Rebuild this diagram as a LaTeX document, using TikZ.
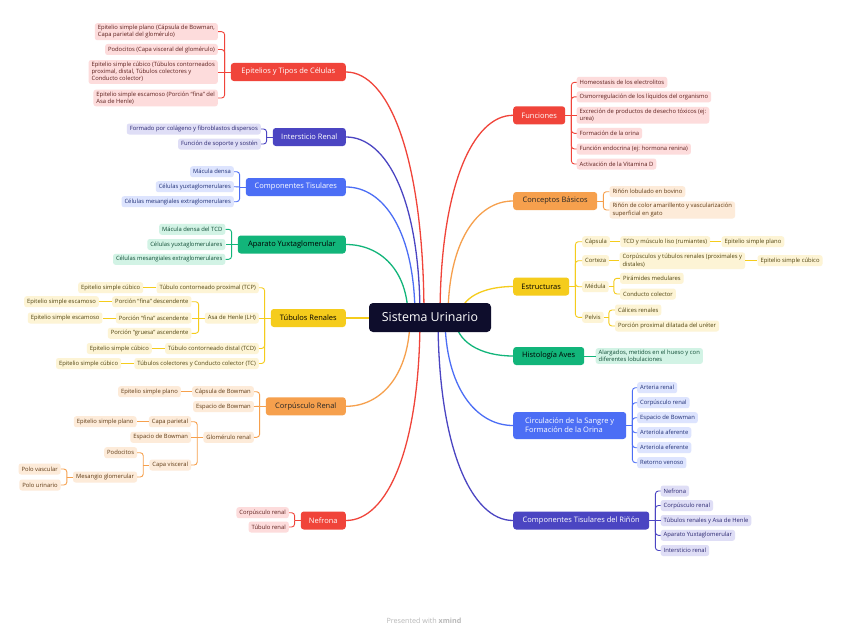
\documentclass[tikz,border=0pt]{standalone}
\usepackage{fontspec}
\setmainfont{Open Sans}
\usetikzlibrary{calc}
\definecolor{cRed}{HTML}{F0443A}\definecolor{cRedL}{HTML}{FDDCDC}\definecolor{cRedD}{HTML}{5C1F1C}
\definecolor{cInd}{HTML}{4B45C2}\definecolor{cIndL}{HTML}{DFDEF6}\definecolor{cIndD}{HTML}{2A2670}
\definecolor{cBlu}{HTML}{4C6EF5}\definecolor{cBluL}{HTML}{DDE4FE}\definecolor{cBluD}{HTML}{1F2F75}
\definecolor{cGrn}{HTML}{12B57A}\definecolor{cGrnL}{HTML}{D2F3E5}\definecolor{cGrnD}{HTML}{0F4D35}
\definecolor{cYel}{HTML}{F5CC1C}\definecolor{cYelL}{HTML}{FDF4D5}\definecolor{cYelD}{HTML}{4F430F}
\definecolor{cOra}{HTML}{F6A04D}\definecolor{cOraL}{HTML}{FDEBD9}\definecolor{cOraD}{HTML}{5E3A14}
\definecolor{cNav}{HTML}{0E0D2C}
\tikzset{
 lf/.style={rounded corners=2.5pt, inner xsep=3pt, inner ysep=2pt, minimum height=11pt, font=\fontsize{5.85}{7.2}\selectfont, align=left},
 tp/.style={rounded corners=3pt, inner xsep=4pt, inner ysep=2pt, minimum height=18pt, font=\fontsize{7.5}{9.2}\selectfont, align=left},
 redT/.style={tp, fill=cRed, text=white},
 indT/.style={tp, fill=cInd, text=white},
 bluT/.style={tp, fill=cBlu, text=white},
 grnT/.style={tp, fill=cGrn, text=black},
 yelT/.style={tp, fill=cYel, text=black},
 oraT/.style={tp, fill=cOra, text=black!85},
 redL/.style={lf, fill=cRedL, text=cRedD},
 indL/.style={lf, fill=cIndL, text=cIndD},
 bluL/.style={lf, fill=cBluL, text=cBluD},
 grnL/.style={lf, fill=cGrnL, text=cGrnD},
 yelL/.style={lf, fill=cYelL, text=cYelD},
 oraL/.style={lf, fill=cOraL, text=cOraD},
 redC/.style={draw=cRed, line width=0.9pt, rounded corners=3pt},
 indC/.style={draw=cInd, line width=0.9pt, rounded corners=3pt},
 bluC/.style={draw=cBlu, line width=0.9pt, rounded corners=3pt},
 grnC/.style={draw=cGrn, line width=0.9pt, rounded corners=3pt},
 yelC/.style={draw=cYel, line width=0.9pt, rounded corners=3pt},
 oraC/.style={draw=cOra, line width=0.9pt, rounded corners=3pt},
 mainline/.style={line width=1.3pt},
}
\begin{document}
\begin{tikzpicture}[x=1pt,y=-1pt]
\useasboundingbox (0,0) rectangle (848,634);
\fill[white] (0,0) rectangle (848,634);

% ---------- LEFT TOPICS ----------
\node[redT, anchor=east, minimum width=115pt] (t1) at (346,72) {Epitelios y Tipos de Células};
\node[indT, anchor=east, minimum width=73pt] (t2) at (346,137) {Intersticio Renal};
\node[bluT, anchor=east, minimum width=100pt] (t3) at (346,187) {Componentes Tisulares};
\node[grnT, anchor=east, minimum width=108pt] (t4) at (346,244.5) {Aparato Yuxtaglomerular};
\node[yelT, anchor=east, minimum width=75pt] (t5) at (346,318) {Túbulos Renales};
\node[oraT, anchor=east, minimum width=80pt] (t6) at (346,406.3) {Corpúsculo Renal};
\node[redT, anchor=east, minimum width=45pt] (t7) at (346,520.5) {Nefrona};

% ---------- RIGHT TOPICS ----------
\node[redT, anchor=west, minimum width=52pt] (u1) at (513,115.3) {Funciones};
\node[oraT, anchor=west, minimum width=84pt] (u2) at (513,201) {Conceptos Básicos};
\node[yelT, anchor=west, minimum width=56pt] (u3) at (513,286.5) {Estructuras};
\node[grnT, anchor=west, minimum width=71pt] (u4) at (513,356) {Histología Aves};
\node[bluT, anchor=west, minimum width=113pt, minimum height=27pt, inner xsep=7pt] (u5) at (513,425.5) {Circulación de la Sangre y\\Formación de la Orina};
\node[indT, anchor=west, minimum width=136pt] (u6) at (513,520.5) {Componentes Tisulares del Riñón};

% ---------- MAIN BRANCHES ----------
\coordinate (s1) at (424,317); \coordinate (s2) at (420,317); \coordinate (s3) at (415,317);
\coordinate (s4) at (408,317); \coordinate (s5) at (400,318); \coordinate (s6) at (410,317);
\coordinate (s7) at (420,317);
\coordinate (q1) at (440,317); \coordinate (q2) at (448,317); \coordinate (q3) at (460,317);
\coordinate (q4) at (455,317); \coordinate (q5) at (445,317); \coordinate (q6) at (438,317);
\draw[mainline, cRed] (s1) .. controls (424,158) and (389,72) .. (t1.east);
\draw[mainline, cInd] (s2) .. controls (420,200) and (387,137) .. (t2.east);
\draw[mainline, cBlu] (s3) .. controls (415,232) and (384,187) .. (t3.east);
\draw[mainline, cGrn] (s4) .. controls (408,270) and (380,244.5) .. (t4.east);
\draw[mainline, cYel] (s5) -- (t5.east);
\draw[mainline, cOra] (s6) .. controls (410,375) and (381,406.3) .. (t6.east);
\draw[mainline, cRed] (s7) .. controls (420,449) and (387,520.5) .. (t7.east);
\draw[mainline, cRed] (q1) .. controls (440,186) and (473,115.3) .. (u1.west);
\draw[mainline, cOra] (q2) .. controls (448,242) and (477,201) .. (u2.west);
\draw[mainline, cYel] (q3) .. controls (460,297.5) and (484,286.5) .. (u3.west);
\draw[mainline, cGrn] (q4) .. controls (455,342) and (481,356) .. (u4.west);
\draw[mainline, cBlu] (q5) .. controls (445,387) and (476,425.5) .. (u5.west);
\draw[mainline, cInd] (q6) .. controls (438,449) and (472,520.5) .. (u6.west);

% ---------- CENTER ----------
\node[fill=cNav, text=white, rounded corners=4pt, minimum width=122pt, minimum height=29pt, font=\fontsize{12.4}{14}\selectfont] (C) at (430,317.5) {Sistema Urinario};

% ---------- Epitelios ----------
\node[redL, anchor=east] (e1) at (218,31.7) {Epitelio simple plano (Cápsula de Bowman,\\Capa parietal del glomérulo)};
\node[redL, anchor=east] (e2) at (218,49.5) {Podocitos (Capa visceral del glomérulo)};
\node[redL, anchor=east] (e3) at (218,72) {Epitelio simple cúbico (Túbulos contorneados\\proximal, distal, Túbulos colectores y\\Conducto colector)};
\node[redL, anchor=east] (e4) at (218,98) {Epitelio simple escamoso (Porción “fina” del\\Asa de Henle)};
\draw[redC] (t1.west) -- ++(-6,0) coordinate (j1);
\draw[redC] (j1) |- (e1.east); \draw[redC] (j1) |- (e2.east);
\draw[redC] (j1) -- (e3.east); \draw[redC] (j1) |- (e4.east);

% ---------- Intersticio ----------
\node[indL, anchor=east] (i1) at (261,129) {Formado por colágeno y fibroblastos dispersos};
\node[indL, anchor=east] (i2) at (261,144) {Función de soporte y sostén};
\draw[indC] (t2.west) -- ++(-6,0) coordinate (j2);
\draw[indC] (j2) |- (i1.east); \draw[indC] (j2) |- (i2.east);

% ---------- Componentes Tisulares ----------
\node[bluL, anchor=east] (c1) at (234,171.7) {Mácula densa};
\node[bluL, anchor=east] (c2) at (234,186.7) {Células yuxtaglomerulares};
\node[bluL, anchor=east] (c3) at (234,201.7) {Células mesangiales extraglomerulares};
\draw[bluC] (t3.west) -- ++(-6,0) coordinate (j3);
\draw[bluC] (j3) |- (c1.east); \draw[bluC] (j3) -- (c2.east); \draw[bluC] (j3) |- (c3.east);

% ---------- Aparato ----------
\node[grnL, anchor=east] (a1) at (225.5,229.3) {Mácula densa del TCD};
\node[grnL, anchor=east] (a2) at (225.5,244.5) {Células yuxtaglomerulares};
\node[grnL, anchor=east] (a3) at (225.5,259.3) {Células mesangiales extraglomerulares};
\draw[grnC] (t4.west) -- ++(-6,0) coordinate (j4);
\draw[grnC] (j4) |- (a1.east); \draw[grnC] (j4) -- (a2.east); \draw[grnC] (j4) |- (a3.east);

% ---------- Túbulos Renales ----------
\node[yelL, anchor=east] (r1) at (259,287.7) {Túbulo contorneado proximal (TCP)};
\node[yelL, anchor=east] (r2) at (259,318) {Asa de Henle (LH)};
\node[yelL, anchor=east] (r3) at (259,348.5) {Túbulo contorneado distal (TCD)};
\node[yelL, anchor=east] (r4) at (259,363.5) {Túbulos colectores y Conducto colector (TC)};
\node[yelL, anchor=east] (r1a) at ([xshift=-13pt]r1.west) {Epitelio simple cúbico};
\node[yelL, anchor=east] (r3a) at ([xshift=-13pt]r3.west) {Epitelio simple cúbico};
\node[yelL, anchor=east] (r4a) at ([xshift=-13pt]r4.west) {Epitelio simple cúbico};
\node[yelL, anchor=east] (r2a) at ([xshift=-13pt,yshift=16.3pt]r2.west) {Porción “fina” descendente};
\node[yelL, anchor=east] (r2b) at ([xshift=-13pt]r2.west) {Porción “fina” ascendente};
\node[yelL, anchor=east] (r2c) at ([xshift=-13pt,yshift=-15.3pt]r2.west) {Porción “gruesa” ascendente};
\node[yelL, anchor=east] (r2a1) at ([xshift=-13pt]r2a.west) {Epitelio simple escamoso};
\node[yelL, anchor=east] (r2b1) at ([xshift=-13pt]r2b.west) {Epitelio simple escamoso};
\draw[yelC] (t5.west) -- ++(-6,0) coordinate (j5);
\draw[yelC] (j5) |- (r1.east); \draw[yelC] (j5) -- (r2.east);
\draw[yelC] (j5) |- (r3.east); \draw[yelC] (j5) |- (r4.east);
\draw[yelC] (r1.west) -- (r1a.east); \draw[yelC] (r3.west) -- (r3a.east); \draw[yelC] (r4.west) -- (r4a.east);
\draw[yelC] (r2.west) -- ++(-6,0) coordinate (j5b);
\draw[yelC] (j5b) |- (r2a.east); \draw[yelC] (j5b) -- (r2b.east); \draw[yelC] (j5b) |- (r2c.east);
\draw[yelC] (r2a.west) -- (r2a1.east); \draw[yelC] (r2b.west) -- (r2b1.east);

% ---------- Corpúsculo Renal ----------
\node[oraL, anchor=east] (p1) at (254,391.7) {Cápsula de Bowman};
\node[oraL, anchor=east] (p2) at (254,406.5) {Espacio de Bowman};
\node[oraL, anchor=east] (p3) at (254,437.3) {Glomérulo renal};
\node[oraL, anchor=east] (p1a) at ([xshift=-11pt]p1.west) {Epitelio simple plano};
\node[oraL, anchor=east] (p3a) at ([xshift=-12pt,yshift=15.6pt]p3.west) {Capa parietal};
\node[oraL, anchor=east] (p3b) at ([xshift=-12pt]p3.west) {Espacio de Bowman};
\node[oraL, anchor=east] (p3c) at ([xshift=-12pt,yshift=-27.7pt]p3.west) {Capa visceral};
\node[oraL, anchor=east] (p3a1) at ([xshift=-12pt]p3a.west) {Epitelio simple plano};
\node[oraL, anchor=east] (p3c1) at ([xshift=-12pt,yshift=12.3pt]p3c.west) {Podocitos};
\node[oraL, anchor=east] (p3c2) at ([xshift=-12pt,yshift=-12pt]p3c.west) {Mesangio glomerular};
\node[oraL, anchor=east] (p3c2a) at ([xshift=-12pt,yshift=8pt]p3c2.west) {Polo vascular};
\node[oraL, anchor=east] (p3c2b) at ([xshift=-12pt,yshift=-8pt]p3c2.west) {Polo urinario};
\draw[oraC] (t6.west) -- ++(-6,0) coordinate (j6);
\draw[oraC] (j6) |- (p1.east); \draw[oraC] (j6) -- (p2.east); \draw[oraC] (j6) |- (p3.east);
\draw[oraC] (p1.west) -- (p1a.east);
\draw[oraC] (p3.west) -- ++(-6,0) coordinate (j6b);
\draw[oraC] (j6b) |- (p3a.east); \draw[oraC] (j6b) -- (p3b.east); \draw[oraC] (j6b) |- (p3c.east);
\draw[oraC] (p3a.west) -- (p3a1.east);
\draw[oraC] (p3c.west) -- ++(-6,0) coordinate (j6c);
\draw[oraC] (j6c) |- (p3c1.east); \draw[oraC] (j6c) |- (p3c2.east);
\draw[oraC] (p3c2.west) -- ++(-6,0) coordinate (j6d);
\draw[oraC] (j6d) |- (p3c2a.east); \draw[oraC] (j6d) |- (p3c2b.east);

% ---------- Nefrona ----------
\node[redL, anchor=east] (n1) at (289,512.7) {Corpúsculo renal};
\node[redL, anchor=east] (n2) at (289,527) {Túbulo renal};
\draw[redC] (t7.west) -- ++(-6,0) coordinate (j7);
\draw[redC] (j7) |- (n1.east); \draw[redC] (j7) |- (n2.east);

% ---------- Funciones ----------
\node[redL, anchor=west] (f1) at (576.5,82.3) {Homeostasis de los electrolitos};
\node[redL, anchor=west] (f2) at (576.5,96.8) {Osmorregulación de los líquidos del organismo};
\node[redL, anchor=west] (f3) at (576.5,115.3) {Excreción de productos de desecho tóxicos (ej:\\urea)};
\node[redL, anchor=west] (f4) at (576.5,133.3) {Formación de la orina};
\node[redL, anchor=west] (f5) at (576.5,149) {Función endocrina (ej: hormona renina)};
\node[redL, anchor=west] (f6) at (576.5,164) {Activación de la Vitamina D};
\draw[redC] (u1.east) -- ++(6,0) coordinate (k1);
\foreach \n in {f1,f2,f4,f5,f6} \draw[redC] (k1) |- (\n.west);
\draw[redC] (k1) -- (f3.west);

% ---------- Conceptos ----------
\node[oraL, anchor=west] (b1) at (609.3,191.7) {Riñón lobulado en bovino};
\node[oraL, anchor=west] (b2) at (609.3,210) {Riñón de color amarillento y vascularización\\superficial en gato};
\draw[oraC] (u2.east) -- ++(6,0) coordinate (k2);
\draw[oraC] (k2) |- (b1.west); \draw[oraC] (k2) |- (b2.west);

% ---------- Estructuras ----------
\node[yelL, anchor=west] (x1) at (582,241.7) {Cápsula};
\node[yelL, anchor=west] (x2) at (582,260.7) {Corteza};
\node[yelL, anchor=west] (x3) at (582,286.7) {Médula};
\node[yelL, anchor=west] (x4) at (582,317.3) {Pelvis};
\node[yelL, anchor=west] (x1a) at ([xshift=10pt]x1.east) {TCD y músculo liso (rumiantes)};
\node[yelL, anchor=west] (x1b) at ([xshift=11pt]x1a.east) {Epitelio simple plano};
\node[yelL, anchor=west] (x2a) at ([xshift=10pt]x2.east) {Corpúsculos y túbulos renales (proximales y\\distales)};
\node[yelL, anchor=west] (x2b) at ([xshift=12pt]x2a.east) {Epitelio simple cúbico};
\node[yelL, anchor=west] (x3a) at ([xshift=11pt,yshift=8.4pt]x3.east) {Pirámides medulares};
\node[yelL, anchor=west] (x3b) at ([xshift=11pt,yshift=-7.3pt]x3.east) {Conducto colector};
\node[yelL, anchor=west] (x4a) at ([xshift=11pt,yshift=7.3pt]x4.east) {Cálices renales};
\node[yelL, anchor=west] (x4b) at ([xshift=11pt,yshift=-8.7pt]x4.east) {Porción proximal dilatada del uréter};
\draw[yelC] (u3.east) -- ++(6,0) coordinate (k3);
\draw[yelC] (k3) |- (x1.west); \draw[yelC] (k3) |- (x2.west);
\draw[yelC] (k3) |- (x3.west); \draw[yelC] (k3) |- (x4.west);
\draw[yelC] (x1.east) -- (x1a.west); \draw[yelC] (x1a.east) -- (x1b.west);
\draw[yelC] (x2.east) -- (x2a.west); \draw[yelC] (x2a.east) -- (x2b.west);
\draw[yelC] (x3.east) -- ++(5,0) coordinate (k3b);
\draw[yelC] (k3b) |- (x3a.west); \draw[yelC] (k3b) |- (x3b.west);
\draw[yelC] (x4.east) -- ++(5,0) coordinate (k3c);
\draw[yelC] (k3c) |- (x4a.west); \draw[yelC] (k3c) |- (x4b.west);

% ---------- Histología Aves ----------
\node[grnL, anchor=west] (h1) at (595.5,356) {Alargados, metidos en el hueso y con\\diferentes lobulaciones};
\draw[grnC] (u4.east) -- (h1.west);

% ---------- Circulación ----------
\node[bluL, anchor=west] (v1) at (637,387.7) {Arteria renal};
\node[bluL, anchor=west] (v2) at (637,402.7) {Corpúsculo renal};
\node[bluL, anchor=west] (v3) at (637,417.7) {Espacio de Bowman};
\node[bluL, anchor=west] (v4) at (637,432.7) {Arteriola aferente};
\node[bluL, anchor=west] (v5) at (637,447.7) {Arteriola eferente};
\node[bluL, anchor=west] (v6) at (637,462.7) {Retorno venoso};
\draw[bluC] (u5.east) -- ++(6,0) coordinate (k5);
\foreach \n in {v1,v2,v3,v4,v5,v6} \draw[bluC] (k5) |- (\n.west);

% ---------- Componentes Tisulares del Riñón ----------
\node[indL, anchor=west] (w1) at (660.5,491) {Nefrona};
\node[indL, anchor=west] (w2) at (660.5,505.5) {Corpúsculo renal};
\node[indL, anchor=west] (w3) at (660.5,520.5) {Túbulos renales y Asa de Henle};
\node[indL, anchor=west] (w4) at (660.5,535.3) {Aparato Yuxtaglomerular};
\node[indL, anchor=west] (w5) at (660.5,550.5) {Intersticio renal};
\draw[indC] (u6.east) -- ++(6,0) coordinate (k6);
\foreach \n in {w1,w2,w4,w5} \draw[indC] (k6) |- (\n.west);
\draw[indC] (k6) -- (w3.west);

% ---------- footer ----------
\node[text=black!28, font=\fontsize{7.2}{8}\selectfont] (foot) at (424,621) {Presented with \textbf{xmind}};
\end{tikzpicture}
\end{document}
